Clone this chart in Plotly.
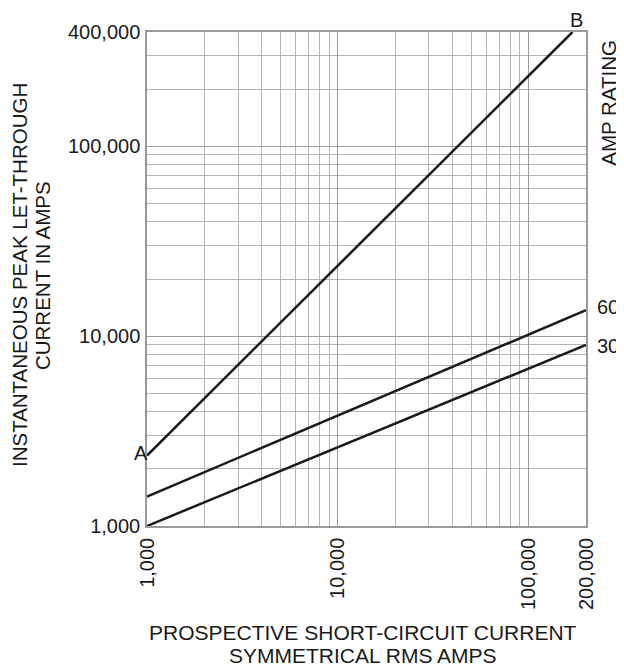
import math
import plotly.graph_objects as go

# ---- data ----
prospective_x = [1000, 170000]
line_AB_y = [2350, 400000]
prospective_x_full = [1000, 200000]
amp60_y = [1430, 13700]
amp30_y = [1000, 9000]

x_tick_vals = [1000, 10000, 100000, 200000]
x_tick_text = ["1,000", "10,000", "100,000", "200,000"]
y_tick_vals = [1000, 10000, 100000, 400000]
y_tick_text = ["1,000", "10,000", "100,000", "400,000"]
x_minor = [m * 10**e for e in (3, 4) for m in range(2, 10)]
y_minor = [m * 10**e for e in (3, 4) for m in range(2, 10)] + [200000, 300000]

FONT = "Liberation Sans, Arial, Helvetica, sans-serif"
LINE_COLOR = "#1a1a1a"
GRID = "#b4b4b4"
MAJOR = "#9a9a9a"

fig = go.Figure()
fig.add_trace(go.Scatter(x=prospective_x, y=line_AB_y, mode="lines",
                         line=dict(color=LINE_COLOR, width=2.5), showlegend=False))
fig.add_trace(go.Scatter(x=prospective_x_full, y=amp60_y, mode="lines",
                         line=dict(color=LINE_COLOR, width=2.5), showlegend=False))
fig.add_trace(go.Scatter(x=prospective_x_full, y=amp30_y, mode="lines",
                         line=dict(color=LINE_COLOR, width=2.5), showlegend=False))

axis_common = dict(type="log", showline=True, linecolor=MAJOR, linewidth=1.5, mirror=True,
                   showgrid=True, gridcolor=MAJOR, gridwidth=1.2, zeroline=False,
                   ticks="", tickfont=dict(family=FONT, size=20, color="#1a1a1a"))

fig.update_xaxes(range=[math.log10(1000), math.log10(200000)],
                 tickmode="array", tickvals=x_tick_vals, ticktext=x_tick_text,
                 tickangle=-90, ticklabelstandoff=2,
                 minor=dict(tickmode="array", tickvals=x_minor, showgrid=True,
                            gridcolor=GRID, gridwidth=1, ticks=""),
                 **axis_common)
fig.update_yaxes(range=[math.log10(1000), math.log10(400000)],
                 tickmode="array", tickvals=y_tick_vals, ticktext=y_tick_text,
                 ticklabelstandoff=1,
                 minor=dict(tickmode="array", tickvals=y_minor, showgrid=True,
                            gridcolor=GRID, gridwidth=1, ticks=""),
                 **axis_common)

tf = dict(family=FONT, size=20, color="#1a1a1a")
tt = dict(family=FONT, size=21, color="#1a1a1a")
ann = [
    dict(x=math.log10(prospective_x[0]), y=math.log10(line_AB_y[0]), xref="x", yref="y",
         text="A", showarrow=False, xanchor="right", yanchor="middle", xshift=3, yshift=3, font=tf),
    dict(x=math.log10(prospective_x[1]), y=math.log10(line_AB_y[1]), xref="x", yref="y",
         text="B", showarrow=False, xanchor="center", yanchor="bottom", xshift=4, yshift=-1, font=tf),
    dict(x=math.log10(prospective_x_full[1]), y=math.log10(amp60_y[1]), xref="x", yref="y",
         text="60", showarrow=False, xanchor="left", yanchor="middle", xshift=9, yshift=3, font=tf),
    dict(x=math.log10(prospective_x_full[1]), y=math.log10(amp30_y[1]), xref="x", yref="y",
         text="30", showarrow=False, xanchor="left", yanchor="middle", xshift=9, yshift=-1, font=tf),
    dict(x=1.0524, y=0.857, xref="paper", yref="paper", text="AMP RATING", textangle=-90,
         showarrow=False, xanchor="center", yanchor="middle", font=dict(tf, size=20.5)),
    dict(x=-0.2916, y=0.508, xref="paper", yref="paper",
         text="INSTANTANEOUS PEAK LET-THROUGH", textangle=-90,
         showarrow=False, xanchor="center", yanchor="middle", font=dict(tt, size=20.5)),
    dict(x=-0.2392, y=0.508, xref="paper", yref="paper",
         text="CURRENT IN AMPS", textangle=-90,
         showarrow=False, xanchor="center", yanchor="middle", font=dict(tt, size=20.5)),
    dict(x=0.493, y=-0.2146, xref="paper", yref="paper",
         text="PROSPECTIVE SHORT-CIRCUIT CURRENT",
         showarrow=False, xanchor="center", yanchor="middle", font=tt),
    dict(x=0.493, y=-0.2621, xref="paper", yref="paper",
         text="SYMMETRICAL RMS AMPS",
         showarrow=False, xanchor="center", yanchor="middle", font=tt),
]

# page body has an 8px margin, so the figure is sized to end at the window edge
fig.update_layout(width=616, height=659, margin=dict(l=139, r=38, t=24, b=141),
                  plot_bgcolor="white", paper_bgcolor="white", annotations=ann,
                  font=tf, showlegend=False)

fig.write_html("out.html")
